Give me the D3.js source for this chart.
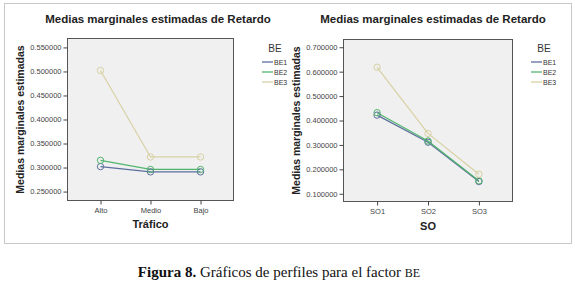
<!DOCTYPE html>
<html><head><meta charset="utf-8">
<script src="https://cdn.jsdelivr.net/npm/d3@7"></script>
<style>body{margin:0;background:#fff}svg{display:block}</style>
</head><body>
<script>
const seriesNames = ["BE1","BE2","BE3"];
const colors = ["#5d6f9f","#52b56e","#d8d1a3"];
const trafCats = ["Alto","Medio","Bajo"];
const trafBE1 = [0.302,0.291,0.291];
const trafBE2 = [0.315,0.296,0.296];
const trafBE3 = [0.502,0.322,0.322];
const trafTicks = [0.25,0.30,0.35,0.40,0.45,0.50,0.55];
const soCats = ["SO1","SO2","SO3"];
const soBE1 = [0.422,0.311,0.150];
const soBE2 = [0.432,0.316,0.153];
const soBE3 = [0.618,0.347,0.180];
const soTicks = [0.1,0.2,0.3,0.4,0.5,0.6,0.7];

const W=575,H=291;
const svg=d3.select("body").append("svg").attr("width",W).attr("height",H);
svg.append("rect").attr("x",4.5).attr("y",3.5).attr("width",567).attr("height",240)
  .attr("fill","none").attr("stroke","#c8c8c8");

function panel(o){
  const g=svg.append("g");
  const x=d3.scalePoint().domain(o.cats).range([o.x0,o.x1]).padding(o.pad);
  const y=d3.scaleLinear().domain(o.dom).range([o.y1,o.y0]);
  g.append("rect").attr("x",o.x0).attr("y",o.y0).attr("width",o.x1-o.x0).attr("height",o.y1-o.y0)
    .attr("fill","#f0f0f0").attr("stroke","#555").attr("stroke-width",1);
  const ya=g.append("g").attr("transform",`translate(${o.x0},0)`)
    .call(d3.axisLeft(y).tickValues(o.ticks).tickSize(4).tickPadding(2).tickFormat(d3.format(".6f")));
  ya.select(".domain").remove();
  ya.selectAll("text").attr("font-family","Liberation Sans, Arial").attr("font-size","7.5px").attr("fill","#444");
  ya.selectAll("line").attr("stroke","#444");
  const xa=g.append("g").attr("transform",`translate(0,${o.y1})`)
    .call(d3.axisBottom(x).tickSize(4).tickPadding(3));
  xa.select(".domain").remove();
  xa.selectAll("text").attr("font-family","Liberation Sans, Arial").attr("font-size","7.5px").attr("fill","#444");
  xa.selectAll("line").attr("stroke","#444");
  const line=d3.line().x((d,i)=>x(o.cats[i])).y(d=>y(d));
  o.series.forEach((s,k)=>{
    g.append("path").attr("d",line(s)).attr("fill","none").attr("stroke",colors[k]).attr("stroke-width",1.2);
  });
  o.series.forEach((s,k)=>{
    g.selectAll(null).data(s).enter().append("circle")
      .attr("cx",(d,i)=>x(o.cats[i])).attr("cy",d=>y(d)).attr("r",3.2)
      .attr("fill","none").attr("stroke",colors[k]).attr("stroke-width",1);
  });
  g.append("text").attr("x",o.tx).attr("y",23).attr("text-anchor","middle")
    .attr("font-family","Liberation Sans, Arial").attr("font-weight","bold").attr("font-size","11.5px").attr("fill","#222")
    .text("Medias marginales estimadas de Retardo");
  g.append("text").attr("transform",`translate(${o.ylx},${(o.y0+o.y1)/2}) rotate(-90)`).attr("text-anchor","middle")
    .attr("font-family","Liberation Sans, Arial").attr("font-weight","bold").attr("font-size","10.5px").attr("fill","#222")
    .text("Medias marginales estimadas");
  g.append("text").attr("x",(o.x0+o.x1)/2).attr("y",o.xly).attr("text-anchor","middle")
    .attr("font-family","Liberation Sans, Arial").attr("font-weight","bold").attr("font-size","11px").attr("fill","#222")
    .text(o.xlab);
  g.append("text").attr("x",o.lx+13).attr("y",52).attr("text-anchor","middle")
    .attr("font-family","Liberation Sans, Arial").attr("font-size","10px").attr("fill","#333").text("BE");
  seriesNames.forEach((n,k)=>{
    const yy=62+k*10;
    g.append("line").attr("x1",o.lx).attr("x2",o.lx+11).attr("y1",yy).attr("y2",yy).attr("stroke",colors[k]).attr("stroke-width",1.3);
    g.append("text").attr("x",o.lx+12).attr("y",yy+2.5).attr("font-family","Liberation Sans, Arial")
      .attr("font-size","7px").attr("fill","#333").text(n);
  });
}

panel({cats:trafCats,series:[trafBE1,trafBE2,trafBE3],ticks:trafTicks,dom:[0.2314,0.5686],
  x0:67.5,x1:233.5,y0:38.5,y1:200.5,pad:0.66,tx:158,ylx:24,xly:228,xlab:"Tráfico",lx:262});
panel({cats:soCats,series:[soBE1,soBE2,soBE3],ticks:soTicks,dom:[0.0683,0.7317],
  x0:343.5,x1:512.5,y0:39.5,y1:201.5,pad:0.66,tx:433,ylx:300,xly:230,xlab:"SO",lx:531});

const cap=svg.append("text").attr("x",279).attr("y",277).attr("text-anchor","middle")
  .attr("font-family","Liberation Serif, DejaVu Serif, serif").attr("font-size","15px").attr("fill","#111");
cap.append("tspan").attr("font-weight","bold").text("Figura 8.");
cap.append("tspan").text(" Gráficos de perfiles para el factor ");
cap.append("tspan").attr("font-size","12px").text("BE");
</script>
</body></html>
